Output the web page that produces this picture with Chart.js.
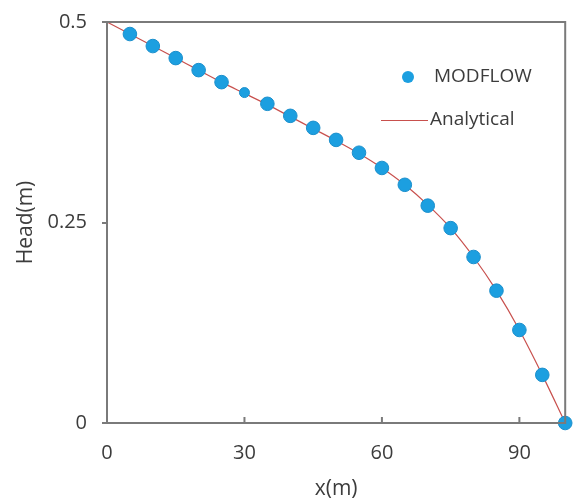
<!DOCTYPE html>
<html>
<head>
<meta charset="utf-8">
<script src="https://cdn.jsdelivr.net/npm/chart.js@4/dist/chart.umd.min.js"></script>
<style>
  html, body { margin: 0; padding: 0; background: #fff; }
  #wrap { width: 573px; height: 499px; }
</style>
</head>
<body>
<div id="wrap"><canvas id="headChart" width="573" height="499"></canvas></div>
<script>
// values
const modflowX = [5, 10, 15, 20, 25, 30, 35, 40, 45, 50, 55, 60, 65, 70, 75, 80, 85, 90, 95, 100];
const modflowHead = [0.485, 0.470, 0.455, 0.440, 0.425, 0.412, 0.398, 0.383, 0.368, 0.353,
                     0.337, 0.318, 0.297, 0.271, 0.243, 0.207, 0.165, 0.116, 0.060, 0.000];
const analyticalX = [0, 5, 10, 15, 20, 25, 30, 35, 40, 45, 50, 55, 60, 65, 70, 75, 80, 85, 90, 95, 100];
const analyticalHead = [0.500, 0.485, 0.470, 0.455, 0.440, 0.425, 0.411, 0.397, 0.382, 0.367, 0.352,
                        0.336, 0.318, 0.297, 0.272, 0.243, 0.207, 0.165, 0.116, 0.060, 0.000];
const xTicks = [0, 30, 60, 90];
const yTicks = [0, 0.25, 0.5];

const axisColor = '#7a7a7a';
const textColor = '#3c3c3c';
const dotColor = '#1c9fe0';
const lineColor = '#c8504d';
const fontFamily = "'Open Sans', sans-serif";

// frame, inward x ticks and legend inside the plot
const framePlugin = {
    id: 'frame',
    afterDraw(chart) {
        const { ctx, chartArea: a, scales } = chart;
        ctx.save();
        ctx.strokeStyle = axisColor;
        ctx.lineWidth = 2;
        ctx.strokeRect(a.left, a.top, a.right - a.left, a.bottom - a.top);
        xTicks.forEach(v => {
            if (v === 0) return;
            const px = scales.x.getPixelForValue(v);
            ctx.beginPath();
            ctx.moveTo(px, a.bottom);
            ctx.lineTo(px, a.bottom - 6);
            ctx.stroke();
        });
        // legend
        ctx.fillStyle = dotColor;
        ctx.beginPath();
        ctx.arc(408, 77, 6, 0, Math.PI * 2);
        ctx.fill();
        ctx.strokeStyle = lineColor;
        ctx.lineWidth = 1.2;
        ctx.beginPath();
        ctx.moveTo(381, 120.5);
        ctx.lineTo(428, 120.5);
        ctx.stroke();
        ctx.fillStyle = textColor;
        ctx.font = '19px ' + fontFamily;
        ctx.textBaseline = 'middle';
        ctx.fillText('MODFLOW', 434, 77);
        ctx.fillText('Analytical', 430, 120);
        ctx.restore();
    }
};

const ctx = document.getElementById('headChart').getContext('2d');
const headChart = new Chart(ctx, {
    type: 'scatter',
    data: {
        datasets: [{
            label: 'MODFLOW',
            data: modflowX.map((x, i) => ({ x: x, y: modflowHead[i] })),
            showLine: false,
            backgroundColor: dotColor,
            borderColor: '#1b8fcc',
            borderWidth: 1,
            pointRadius: c => (c.dataIndex === 5 ? 5 : 6.8),
            clip: false,
            order: 1
        }, {
            label: 'Analytical',
            data: analyticalX.map((x, i) => ({ x: x, y: analyticalHead[i] })),
            showLine: true,
            borderColor: lineColor,
            borderWidth: 1.2,
            pointRadius: 0,
            cubicInterpolationMode: 'monotone',
            clip: false,
            order: 2
        }]
    },
    options: {
        responsive: false,
        animation: false,
        layout: { padding: { top: 22, right: 6, left: 0, bottom: 0 } },
        plugins: {
            legend: { display: false },
            tooltip: { enabled: false }
        },
        scales: {
            x: {
                type: 'linear',
                min: 0,
                max: 100,
                afterBuildTicks: s => { s.ticks = xTicks.map(v => ({ value: v })); },
                afterFit: s => { s.height = 76; s.paddingLeft = 0; s.paddingRight = 0; },
                grid: { display: false },
                border: { display: false },
                ticks: { color: textColor, font: { family: fontFamily, size: 20 }, padding: 10, maxRotation: 0 },
                title: { display: true, text: 'x(m)', color: textColor, font: { family: fontFamily, size: 21 }, padding: { top: 0, bottom: -3 } }
            },
            y: {
                type: 'linear',
                min: 0,
                max: 0.5,
                afterBuildTicks: s => { s.ticks = yTicks.map(v => ({ value: v })); },
                afterFit: s => { s.width = 107; s.paddingTop = 0; s.paddingBottom = 0; },
                grid: { drawOnChartArea: false, drawTicks: true, tickLength: 5, color: axisColor, lineWidth: 2 },
                border: { display: false },
                ticks: { color: textColor, font: { family: fontFamily, size: 20 }, padding: 15,
                         callback: v => String(v) },
                title: { display: true, text: 'Head(m)', color: textColor, font: { family: fontFamily, size: 21 }, padding: { top: 13, bottom: 0 } }
            }
        }
    },
    plugins: [framePlugin]
});
</script>
</body>
</html>
